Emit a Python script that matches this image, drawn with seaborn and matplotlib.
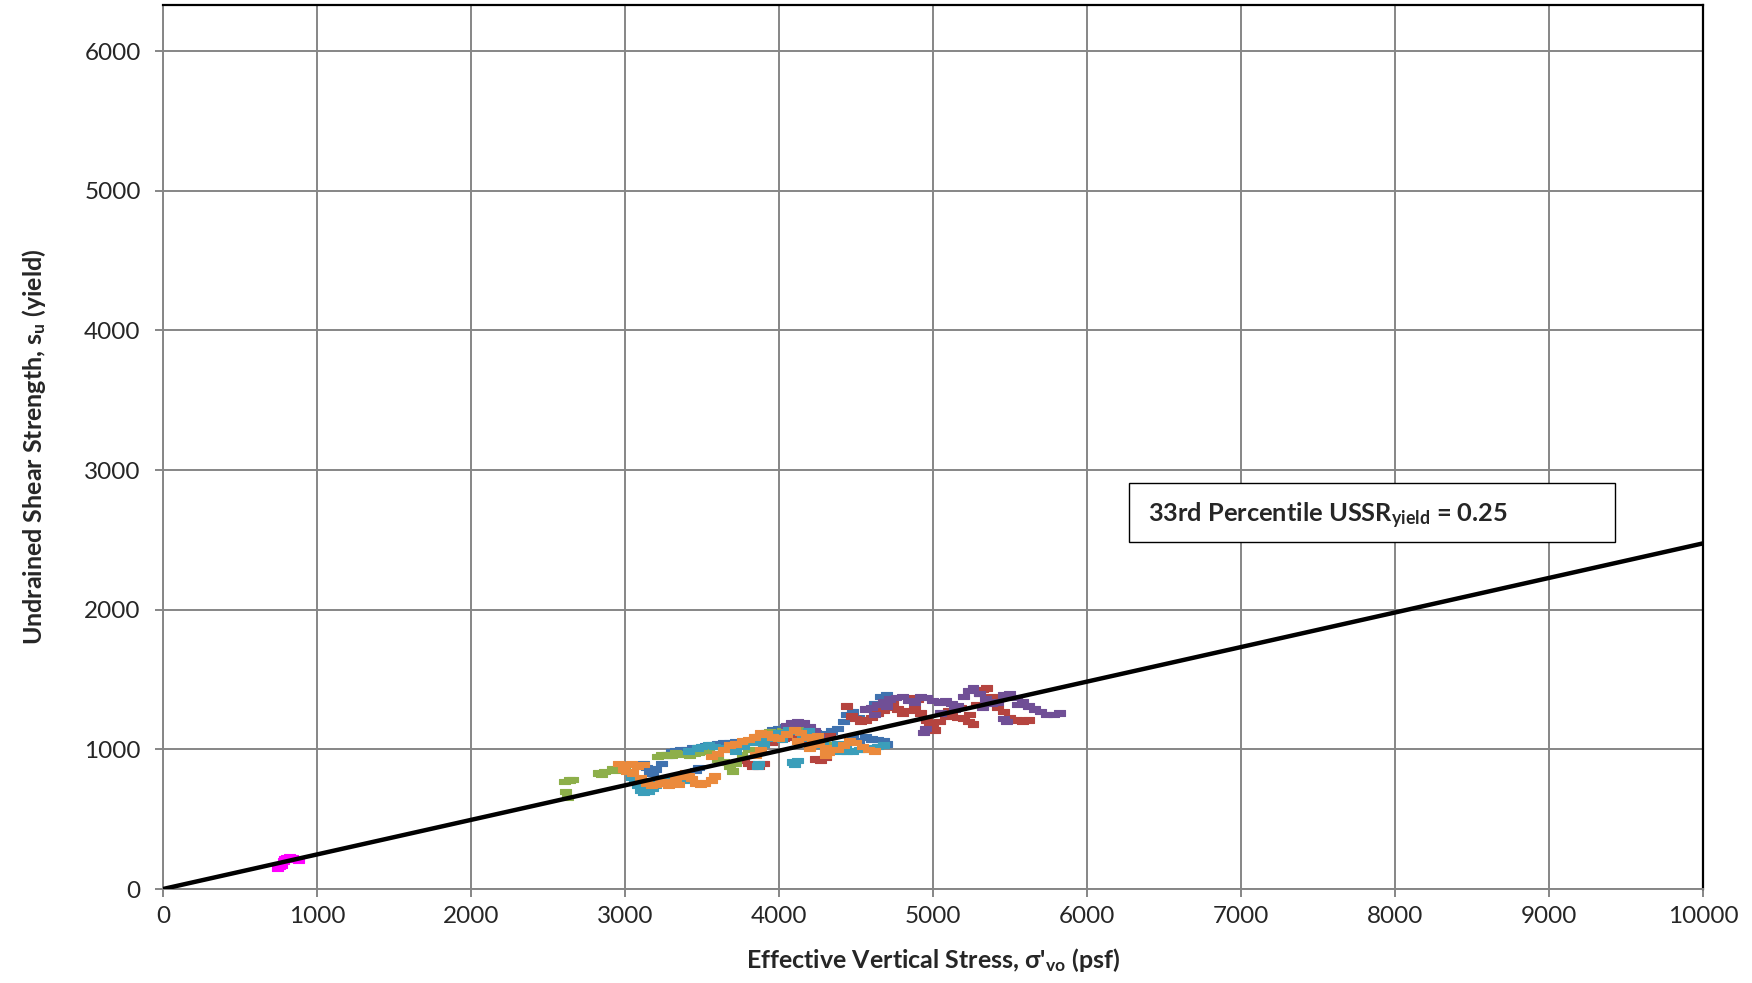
import numpy as np
import pandas as pd
import matplotlib
matplotlib.use("Agg")
import matplotlib.pyplot as plt
from matplotlib.patches import Rectangle
import seaborn as sns

# ---------------- data ----------------
blue_x = [3100,3120,3140,3160,3180,3200,3240,3280,3300,3330,3360,3400,3440,3480,3520,3560,3600,3640,3680,3720,
          3460,3480,3880,3920,3960,4000,4040,4080,4120,4200,4300,4380,4420,4440,4480,4520,4560,4600,4640,4680,
          4700,4660,4700,4620,4480,4520,3380,3420,3500,3540,3580,3620,4160,4240,4340]
blue_y = [880,900,870,840,830,860,900,960,980,990,1000,1000,1010,1015,1025,1035,1040,1050,1045,1055,
          850,870,1100,1120,1140,1150,1160,1170,1160,1130,1110,1150,1200,1250,1270,1230,1090,1075,1070,1060,
          1040,1380,1390,1330,1080,1060,980,990,1000,1010,1020,1030,1150,1120,1130]

red_x = [3770,3800,3830,3870,3900,3950,3990,4030,4070,4100,4150,4200,4240,4270,4300,4330,4440,4470,4500,4530,
         4560,4600,4640,4680,4710,4740,4770,4800,4840,4880,4920,4960,4990,5010,5040,5080,5120,5160,5200,5240,
         5280,5300,5320,5350,5380,5420,5460,5500,5540,5580,5620,5230,5260,4870,4900,4980,5000,5100,5180]
red_y = [920,900,880,880,900,1050,1070,1080,1090,1100,1090,1060,930,925,940,1100,1310,1240,1220,1200,
         1210,1230,1260,1280,1300,1330,1290,1260,1280,1290,1260,1210,1150,1140,1200,1240,1260,1230,1220,1250,
         1320,1400,1430,1440,1380,1300,1270,1230,1210,1200,1210,1200,1180,1370,1360,1170,1190,1280,1300]

green_x = [2610,2640,2660,2615,2625,2830,2850,2870,2920,2940,3000,3210,3240,3270,3300,3330,3360,3390,3420,3450,
           3480,3510,3540,3600,3640,3680,3700,3720,3760,3800,3830,3860,3900,3940,3980,4020,4080,4150,4200,4250,
           4300,4330]
green_y = [770,780,785,700,655,830,820,840,860,850,870,950,965,960,955,975,965,970,960,975,
           980,985,990,930,910,880,845,900,960,1000,1050,1090,1110,1125,1120,1130,1150,1155,1140,1080,
           1030,1005]

purple_x = [4050,4080,4120,4160,4200,4230,4260,4560,4600,4640,4680,4720,4760,4800,4840,4880,4920,4960,5000,5040,
            5080,5120,5160,5200,5230,5260,5300,5340,5380,5420,5460,5500,5540,5580,5620,5660,5700,5740,5780,5820,
            4950,4940,5050,5460,5480,5550,4620,4700,5140,5320]
purple_y = [1170,1190,1200,1190,1160,1130,1090,1290,1300,1320,1340,1360,1370,1380,1350,1340,1380,1370,1350,1340,
            1350,1330,1310,1380,1420,1440,1400,1360,1330,1340,1390,1400,1370,1340,1310,1290,1270,1250,1250,1260,
            1150,1120,1260,1220,1200,1320,1250,1310,1290,1300]

teal_x = [3040,3060,3080,3100,3120,3150,3180,3220,3250,3280,3300,3340,3380,3470,3500,3540,3580,3640,3680,3720,
          3770,3840,3880,3900,3950,4000,4060,4100,4150,4200,4240,4280,4320,4360,4400,4440,4480,4520,4560,4600,
          4640,4680,3860,3870,4090,4100,4120,4170,4190,3200,3260,3410,4020,4380,4430]
teal_y = [800,780,740,710,690,700,720,760,790,800,780,760,780,1010,1020,1030,1020,1010,1000,990,
          1020,1050,1060,1040,1080,1120,1140,1130,1100,1080,1060,1030,1010,1000,990,985,990,1000,1000,1010,
          1020,1030,880,900,910,890,920,1090,1130,740,770,990,1070,1040,1020]

orange_x = [2960,3000,3040,3080,3120,2990,3010,3050,3100,3140,3170,3200,3230,3260,3300,3330,3360,3390,3410,3430,
            3460,3490,3520,3560,3580,3560,3600,3640,3680,3720,3760,3800,3840,3880,3920,3960,4000,4050,4100,4140,
            4180,4220,4260,4300,4340,4380,4420,4460,4500,4540,4580,4620,4300,4320,4250,3880,3850,3280,3350,4120,4200]
orange_y = [900,890,895,880,890,860,840,830,800,760,740,750,770,760,770,790,810,830,810,790,
            760,750,760,780,810,950,970,1000,1030,1040,1060,1070,1090,1120,1110,1090,1080,1110,1140,1120,
            1090,1060,1040,1010,1000,1000,1030,1060,1050,1020,1000,990,960,980,1100,1000,960,740,750,1060,1010]

magenta_x = [745,755,770,780,790,805,820,840,860,880]
magenta_y = [150,160,170,200,215,225,230,225,210,205]

series_names = ["Series 1", "Series 2", "Series 3", "Series 4", "Series 5", "Series 6", "Series 7"]
series_colors = ["#3F72AF", "#B5443F", "#8DAF4A", "#704F96", "#3B9EBA", "#EB8A3C", "#FF00FF"]

line_x = [0, 10000]
line_y = [0, 2475]

x_ticks = [0, 1000, 2000, 3000, 4000, 5000, 6000, 7000, 8000, 9000, 10000]
y_ticks = [0, 1000, 2000, 3000, 4000, 5000, 6000]

# ---------------- build table ----------------
all_x = [blue_x, red_x, green_x, purple_x, teal_x, orange_x, magenta_x]
all_y = [blue_y, red_y, green_y, purple_y, teal_y, orange_y, magenta_y]
frames = []
for name, xs, ys in zip(series_names, all_x, all_y):
    frames.append(pd.DataFrame({"stress": xs, "su": ys, "series": name}))
df = pd.concat(frames, ignore_index=True)

# ---------------- style ----------------
sns.set_theme(style="white")
plt.rcParams["font.family"] = ["Lato", "DejaVu Sans"]
plt.rcParams["mathtext.fontset"] = "custom"
plt.rcParams["mathtext.rm"] = "Lato"
plt.rcParams["mathtext.bf"] = "Lato:bold"
plt.rcParams["mathtext.it"] = "Lato:italic"

fig = plt.figure(figsize=(17.52, 9.83), dpi=100)
ax = fig.add_axes([0.0930, 0.0956, 0.9720 - 0.0930, 0.9949 - 0.0956])

grid_c = "#868686"
for xv in x_ticks:
    ax.axvline(xv, color=grid_c, lw=1.4, zorder=0)
for yv in y_ticks:
    ax.axhline(yv, color=grid_c, lw=1.4, zorder=0)

dash = [(-1, -0.5), (1, -0.5), (1, 0.5), (-1, 0.5), (-1, -0.5)]
sns.scatterplot(data=df, x="stress", y="su", hue="series", hue_order=series_names,
                palette=series_colors, marker=dash, s=62, linewidth=0.8,
                legend=False, ax=ax, zorder=3)
for coll in ax.collections:
    coll.set_edgecolor(coll.get_facecolor())

sns.lineplot(x=line_x, y=line_y, color="black", lw=3.2, ax=ax, zorder=4)

ax.set_xlim(0, 10000)
ax.set_ylim(0, 6330)
ax.set_xticks(x_ticks)
ax.set_yticks(y_ticks)
ax.set_xticklabels([str(v) for v in x_ticks], fontsize=17.5)
ax.set_yticklabels([str(v) for v in y_ticks], fontsize=17.5)
ax.tick_params(axis="x", direction="out", length=6, width=1.4, color=grid_c, pad=6, bottom=True)
ax.tick_params(axis="y", direction="out", length=6, width=1.4, color=grid_c, pad=10, left=True)

for side in ["left", "bottom"]:
    ax.spines[side].set_color(grid_c)
    ax.spines[side].set_linewidth(1.4)
for side in ["top", "right"]:
    ax.spines[side].set_color("black")
    ax.spines[side].set_linewidth(1.6)

ax.set_xlabel(r"Effective Vertical Stress, σ'$_{\mathbf{vo}}$ (psf)", fontsize=18, fontweight="bold", labelpad=14)
ax.set_ylabel(r"Undrained Shear Strength, s$_{\mathbf{u}}$ (yield)", fontsize=18, fontweight="bold", labelpad=26)

ax.add_patch(Rectangle((6270, 2486), 9428 - 6270, 2908 - 2486, facecolor="white",
                       edgecolor="black", lw=1.0, zorder=5))
ax.text(6394, 2672, r"33rd Percentile USSR$_{\mathbf{yield}}$ = 0.25", fontsize=18.3,
        fontweight="bold", va="center", ha="left", zorder=6)

fig.savefig("out.png", dpi=100, facecolor="white")
